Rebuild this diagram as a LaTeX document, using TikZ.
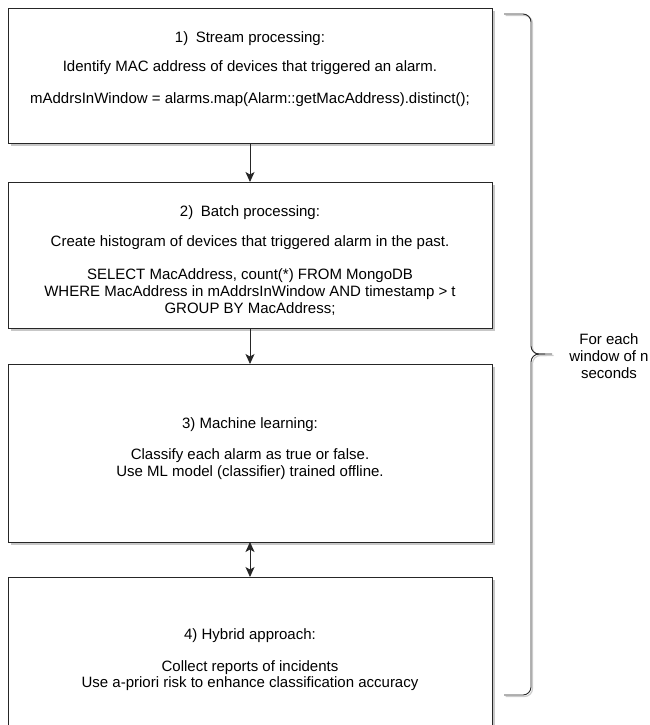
\documentclass[tikz,border=0pt]{standalone}
\usepackage{fontspec}
\setmainfont{Liberation Sans}
\usetikzlibrary{arrows.meta}
\begin{document}
\begin{tikzpicture}[x=1pt,y=-1pt,
  box/.style={draw=black!85,line width=0.9pt,fill=white},
  shadowbox/.style={fill=black!22,draw=none},
  txt/.style={font=\fontsize{15}{16.7}\selectfont,align=center,inner sep=0pt},
  conn/.style={draw=black!85,line width=0.9pt},
  tip/.style={-{Stealth[length=10pt,width=9pt,inset=2.5pt]}},
  dtip/.style={{Stealth[length=10pt,width=9pt,inset=2.5pt]}-{Stealth[length=10pt,width=9pt,inset=2.5pt]}}
]
\useasboundingbox (0,0) rectangle (649,725);
% shadows
\fill[shadowbox] (11,11) rectangle (495,146);
\fill[shadowbox] (11,185) rectangle (495,331);
\fill[shadowbox] (11,367) rectangle (495,545);
\fill[shadowbox] (11,580) rectangle (495,740);
% boxes
\draw[box] (8,8) rectangle (492,143);
\draw[box] (8,182) rectangle (492,328);
\draw[box] (8,364) rectangle (492,542);
\draw[box] (8,577) rectangle (492,740);
\coordinate (b1s) at (250,143);
\coordinate (b2n) at (250,182);
\coordinate (b2s) at (250,328);
\coordinate (b3n) at (250,364);
\coordinate (b3s) at (250,542);
\coordinate (b4n) at (250,577);
% texts
\node[txt] (t1a) at (250,39) {1)\enspace Stream processing:};
\node[txt] (t1b) at (250,68) {Identify MAC address of devices that triggered an alarm.};
\node[txt] (t1c) at (250,100) {mAddrsInWindow = alarms.map(Alarm::getMacAddress).distinct();};
\node[txt] (t2a) at (250,213) {2)\enspace Batch processing:};
\node[txt] (t2b) at (250,243) {Create histogram of devices that triggered alarm in the past.};
\node[txt] (t2c) at (250,292) {SELECT MacAddress, count(*) FROM MongoDB\\WHERE MacAddress in mAddrsInWindow AND timestamp > t\\GROUP BY MacAddress;};
\node[txt] (t3a) at (250,425) {3) Machine learning:};
\node[txt] (t3b) at (250,464) {Classify each alarm as true or false.\\Use ML model (classifier) trained offline.};
\node[txt] (t4a) at (250,636) {4) Hybrid approach:};
\node[txt] (t4b) at (250,675.5) {Collect reports of incidents\\Use a-priori risk to enhance classification accuracy};
% arrows
\draw[conn,tip] (b1s) -- (b2n);
\draw[conn,tip] (b2s) -- (b3n);
\draw[conn,dtip] (b3s) -- (b4n);
% brace
\coordinate (brtip) at (552,354);
\begin{scope}[shift={(1.5,1.5)}]
\draw[black!20,line width=1.2pt,rounded corners=8pt] (504,14) -- (531,14) -- (531,354) -- (552,354);
\draw[black!20,line width=1.2pt,rounded corners=8pt] (545,354) -- (531,354) -- (531,695) -- (504,695);
\end{scope}
\draw[conn,rounded corners=8pt] (504,14) -- (531,14) -- (531,354) -- (brtip);
\draw[conn,rounded corners=8pt] (545,354) -- (531,354) -- (531,695) -- (504,695);
\node[txt] (lab) at (609,356) {For each\\window of n\\seconds};
\end{tikzpicture}
\end{document}
